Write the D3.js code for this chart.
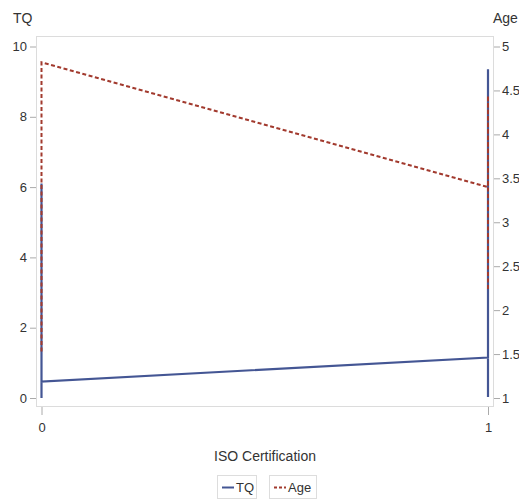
<!DOCTYPE html>
<html><head><meta charset="utf-8">
<script src="https://cdn.jsdelivr.net/npm/d3@7"></script>
<style>body{margin:0;background:#fff}svg{display:block}text{font-family:"Liberation Sans Narrow","Liberation Sans",Arial,sans-serif;fill:#333}</style>
</head><body><svg id="c" width="519" height="500"></svg>
<script>
// Data: points in plot order
const categories = [0, 1];
const tqX = [0, 0, 0, 1, 1, 1];
const tqY = [0.0, 6.1, 0.47, 1.15, 9.35, 0.03];
const ageX = [0, 0, 1, 1, 1];
const ageY = [1.53, 4.82, 3.40, 4.44, 2.23];
const leftTicks = [0, 2, 4, 6, 8, 10];
const rightTicks = [1, 1.5, 2, 2.5, 3, 3.5, 4, 4.5, 5];
const seriesNames = ["TQ", "Age"];
const colors = {TQ: "#445694", Age: "#A23A2E"};

const svg = d3.select("#c");
const frame = {l: 36, t: 36, r: 493, b: 406};
const x = d3.scaleLinear().domain([0, 1]).range([41.5, 488]);
const yL = d3.scaleLinear().domain([0, 10]).range([398, 46.5]);
const yR = d3.scaleLinear().domain([1, 5]).range([398, 46.5]);

svg.append("rect").attr("x", frame.l + 0.5).attr("y", frame.t + 0.5)
  .attr("width", frame.r - frame.l).attr("height", frame.b - frame.t)
  .attr("fill", "none").attr("stroke", "#dcdcdc").attr("stroke-width", 1);

// left axis
const gL = svg.append("g").attr("transform", `translate(${frame.l},0)`)
  .call(d3.axisLeft(yL).tickValues(leftTicks).tickSize(6).tickPadding(3).tickFormat(d3.format("d")));
// right axis
const gR = svg.append("g").attr("transform", `translate(${frame.r + 1},0)`)
  .call(d3.axisRight(yR).tickValues(rightTicks).tickSize(6).tickPadding(2).tickFormat(d => String(d)));
// bottom axis
const gB = svg.append("g").attr("transform", `translate(0,${frame.b + 1})`)
  .call(d3.axisBottom(x).tickValues(categories).tickSize(8).tickPadding(8).tickFormat(d3.format("d")));
[gL, gR, gB].forEach(g => {
  g.select(".domain").remove();
  g.selectAll(".tick line").attr("stroke", "#aaa");
  g.selectAll(".tick text").attr("font-size", 13).style("fill", "#333")
    .attr("font-family", '"Liberation Sans Narrow","Liberation Sans",Arial,sans-serif');
});

// axis titles
svg.append("text").attr("x", 13).attr("y", 23).attr("font-size", 14).text("TQ");
svg.append("text").attr("x", 493).attr("y", 23).attr("font-size", 14).text("Age");
svg.append("text").attr("x", 265).attr("y", 461).attr("font-size", 14)
  .attr("text-anchor", "middle").text("ISO Certification");

// series
const lineL = d3.line().x((d, i) => x(tqX[i])).y(d => yL(d));
svg.append("path").datum(tqY).attr("d", lineL).attr("fill", "none")
  .attr("stroke", colors.TQ).attr("stroke-width", 2.2).attr("stroke-linejoin", "miter");
const lineR = d3.line().x((d, i) => x(ageX[i])).y(d => yR(d));
svg.append("path").datum(ageY).attr("d", lineR).attr("fill", "none")
  .attr("stroke", colors.Age).attr("stroke-width", 2).attr("stroke-dasharray", "4,2.5");

// legend
const leg = [
  {name: seriesNames[0], x: 217, w: 39, dash: null},
  {name: seriesNames[1], x: 269, w: 47, dash: "3,2"}
];
leg.forEach(l => {
  const g = svg.append("g");
  g.append("rect").attr("x", l.x + 0.5).attr("y", 475.5).attr("width", l.w).attr("height", 23)
    .attr("fill", "none").attr("stroke", "#ddd");
  g.append("line").attr("x1", l.x + 5).attr("x2", l.x + 17).attr("y1", 487.5).attr("y2", 487.5)
    .attr("stroke", colors[l.name]).attr("stroke-width", 2).attr("stroke-dasharray", l.dash);
  g.append("text").attr("x", l.x + 19).attr("y", 492).attr("font-size", 13).text(l.name);
});
</script></body></html>
